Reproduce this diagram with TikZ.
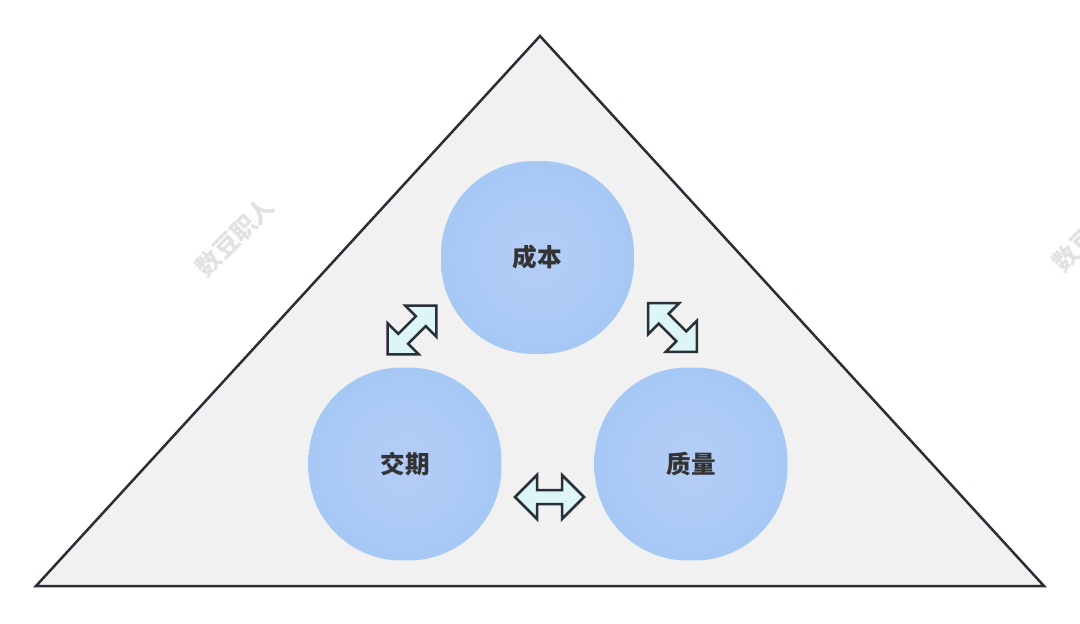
\documentclass[tikz,border=0pt]{standalone}
\usepackage{fontspec}
\newfontfamily\cjk{Noto Sans CJK SC}

\definecolor{edgecolor}{rgb}{0.160000, 0.185000, 0.215000}
\definecolor{trifill}{rgb}{0.945000, 0.945000, 0.945000}
\definecolor{blobin}{HTML}{B5CDF6}
\definecolor{blobout}{HTML}{A6C8F5}
\definecolor{arrowfill}{HTML}{DCF5F6}
\definecolor{labelcolor}{HTML}{333333}
\definecolor{markcolor}{HTML}{E2E2E2}

\tikzset{
  tri/.style={draw=edgecolor, fill=trifill, line width=0.05cm, line join=miter},
  blob/.style={rectangle, minimum size=3.86cm, rounded corners=1.86cm, inner sep=0pt,
    inner color=blobin, outer color=blobout, text=labelcolor,
    font=\cjk\bfseries\fontsize{14}{14}\selectfont},
  wmark/.style={text=markcolor, rotate=45, font=\cjk\bfseries\fontsize{14}{14}\selectfont},
  arrowline/.style={draw=edgecolor, fill=arrowfill, line width=0.05cm, line join=miter},
  tradeoff/.pic={
    \path[arrowline] (-34.5,0) -- (-12.5,22) -- (-12.5,7) -- (12.5,7) -- (12.5,22)
      -- (34.5,0) -- (12.5,-22) -- (12.5,-7) -- (-12.5,-7) -- (-12.5,-22) -- cycle;
  }
}

\begin{document}
\begin{tikzpicture}[x=0.02cm, y=-0.02cm]
\useasboundingbox (0,0) rectangle (1080,623);

% watermarks
\begin{scope}
\clip (0,0) rectangle (1080,623);
\node[wmark] (mark1) at (235,237) {数豆职人};
\node[wmark] (mark2) at (1092,232) {数豆职人};
\end{scope}

% triangle
\coordinate (top) at (540,36);
\coordinate (left) at (36,586);
\coordinate (right) at (1044,586);
\path[tri] (top) -- (right) -- (left) -- cycle;

% three goals
\node[blob] (cost) at (537.5,257.5) {成本};
\node[blob] (delivery) at (405,464) {交期};
\node[blob] (quality) at (691,464) {质量};

% trade-offs
\pic[rotate=45] at (412,330) {tradeoff};
\pic[rotate=-45] at (672.5,327.5) {tradeoff};
\pic at (549.5,497) {tradeoff};
\end{tikzpicture}
\end{document}
